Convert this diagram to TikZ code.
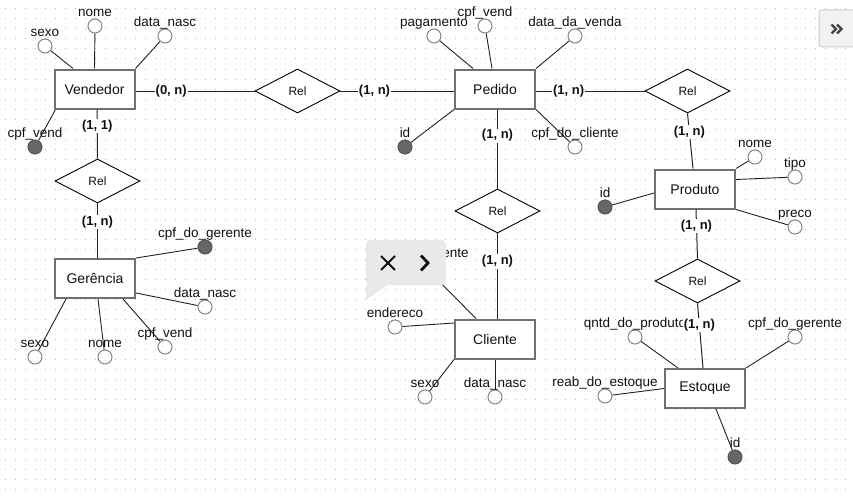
\documentclass[tikz,border=0pt]{standalone}
\usepackage{fontspec}
\setmainfont{Liberation Sans}
\usetikzlibrary{shapes.geometric}
\pgfdeclarelayer{grid}
\pgfdeclarelayer{bg}
\pgfdeclarelayer{top}
\pgfsetlayers{grid,bg,main,top}
\definecolor{entb}{HTML}{707070}
\definecolor{attrb}{HTML}{858585}
\definecolor{keyf}{HTML}{666666}
\definecolor{keyb}{HTML}{555555}
\definecolor{linec}{HTML}{222222}
\definecolor{txt}{HTML}{111111}
\definecolor{popf}{HTML}{E9E9E9}
\definecolor{btnf}{HTML}{F2F2F2}
\definecolor{btnb}{HTML}{CCCCCC}
\tikzset{
  ent/.style={rectangle, draw=entb, line width=2pt, fill=white, minimum width=80pt, minimum height=39pt, inner sep=0pt, text=txt, font=\fontsize{14pt}{16pt}\selectfont},
  relbox/.style={diamond, draw=black, line width=0.9pt, fill=white, minimum width=85pt, minimum height=44pt, inner sep=0pt, text=txt, font=\fontsize{12pt}{14pt}\selectfont},
  attr/.style={circle, draw=attrb, line width=1pt, fill=white, minimum size=14pt, inner sep=0pt},
  key/.style={circle, draw=keyb, line width=1pt, fill=keyf, minimum size=14pt, inner sep=0pt},
  alab/.style={anchor=base, inner sep=0pt, text=txt, font=\fontsize{13.5pt}{15pt}\selectfont},
  conn/.style={draw=linec, line width=0.9pt},
  rline/.style={draw=linec, line width=1pt},
  card/.style={fill=white, inner sep=1pt, text=txt, font=\bfseries\fontsize{13pt}{15pt}\selectfont}
}
\newcommand\myattr[5][attr]{%
  \node[#1] (#2) at (#3,#4) {};
  \node[alab] (#2l) at ([yshift=9.5pt]#2.center) {#5};}
\begin{document}
\begin{tikzpicture}[x=1pt,y=-1pt]
\useasboundingbox (0,0) rectangle (853,495);
\begin{pgfonlayer}{grid}
\fill[white] (0,0) rectangle (853,495);
\foreach \yy in {9,19,...,489}
  \draw[gray!55, line width=1pt, dash pattern=on 1pt off 9pt] (5,\yy) -- (853,\yy);
\end{pgfonlayer}

% entities
\node[ent] (vend) at (94.5,89) {Vendedor};
\node[ent] (ped) at (495,89) {Pedido};
\node[ent] (prod) at (695,189) {Produto};
\node[ent] (ger) at (95,278.5) {Gerência};
\node[ent] (cli) at (495,339) {Cliente};
\node[ent] (est) at (705,388.5) {Estoque};

% relationships
\node[relbox] (rel1) at (297.5,91) {Rel};
\node[relbox] (rel2) at (687.5,91) {Rel};
\node[relbox] (rel3) at (97.5,181) {Rel};
\node[relbox] (rel4) at (497.5,211) {Rel};
\node[relbox] (rel5) at (697.5,281) {Rel};

% attributes: Vendedor
\myattr{vsexo}{45}{46}{sexo}
\myattr{vnome}{95}{26}{nome}
\myattr{vdn}{165}{36}{data\_nasc}
\myattr[key]{vcpf}{35}{147}{cpf\_vend}
% Pedido
\myattr{ppag}{434}{36}{pagamento}
\myattr{pcpf}{485}{26}{cpf\_vend}
\myattr{pdv}{575}{36}{data\_da\_venda}
\myattr[key]{pid}{405}{147}{id}
\myattr{pcc}{575}{147}{cpf\_do\_cliente}
% Produto
\myattr{prnome}{755}{157}{nome}
\myattr{prtipo}{795}{177}{tipo}
\myattr{prpreco}{795}{227}{preco}
\myattr[key]{prid}{605}{207}{id}
% Gerencia
\myattr[key]{gcpf}{205}{247}{cpf\_do\_gerente}
\myattr{gdn}{205}{307}{data\_nasc}
\myattr{gcpfv}{165}{347}{cpf\_vend}
\myattr{gnome}{105}{357}{nome}
\myattr{gsexo}{35}{357}{sexo}
% Cliente
\myattr{ccpf}{425}{267}{cpf\_do\_cliente}
\myattr{cend}{395}{327}{endereco}
\myattr{csexo}{425}{397}{sexo}
\myattr{cdn}{495}{397}{data\_nasc}
% Estoque
\myattr{eq}{635}{337}{qntd\_do\_produto}
\myattr{ecpf}{795}{337}{cpf\_do\_gerente}
\myattr{ereab}{605}{396}{reab\_do\_estoque}
\myattr[key]{eid}{735}{457}{id}

\begin{pgfonlayer}{bg}
\draw[conn] ([xshift=-21.5pt]vend.north) -- (vsexo);
\draw[conn] (vend.north) -- (vnome);
\draw[conn] (vend.north east) -- (vdn);
\draw[conn] ([xshift=2pt]vend.south west) -- (vcpf);
\draw[conn] ([xshift=-22pt]ped.north) -- (ppag);
\draw[conn] ([xshift=-3pt]ped.north) -- (pcpf);
\draw[conn] (ped.north east) -- (pdv);
\draw[conn] (ped.south west) -- (pid);
\draw[conn] (ped.south east) -- (pcc);
\draw[conn] (prod.north east) -- (prnome);
\draw[conn] ([yshift=-11pt]prod.north east) -- (prtipo);
\draw[conn] (prod.south east) -- (prpreco);
\draw[conn] ([yshift=-4pt]prod.west) -- (prid);
\draw[conn] (ger.north east) -- (gcpf);
\draw[conn] ([yshift=-14.5pt]ger.east) -- (gdn);
\draw[conn] ([xshift=28pt]ger.south) -- (gcpfv);
\draw[conn] ([xshift=3pt]ger.south) -- (gnome);
\draw[conn] ([xshift=-29pt]ger.south) -- (gsexo);
\draw[conn] ([xshift=-19pt]cli.north) -- (ccpf);
\draw[conn] ([yshift=16pt]cli.west) -- (cend);
\draw[conn] (cli.south west) -- (csexo);
\draw[conn] (cli.south) -- (cdn);
\draw[conn] ([xshift=-27pt]est.north) -- (eq);
\draw[conn] (est.north east) -- (ecpf);
\draw[conn] (est.west) -- (ereab);
\draw[conn] ([xshift=11pt]est.south) -- (eid);
\end{pgfonlayer}

% relationship connectors with cardinalities
\draw[rline] (vend.east |- rel1.west) -- node[card, pos=0.3] {(0, n)} (rel1.west);
\draw[rline] (rel1.east) -- node[card, pos=0.3] {(1, n)} (rel1.east -| ped.west);
\draw[rline] (ped.east |- rel2.west) -- node[card, pos=0.3] {(1, n)} (rel2.west);
\draw[rline] (rel2.south) -- node[card, pos=0.34] {(1, n)} ([xshift=-2pt]prod.north);
\draw[rline] ([xshift=2.5pt]vend.south) -- node[card, pos=0.34] {(1, 1)} (rel3.north);
\draw[rline] (rel3.south) -- node[card, pos=0.34] {(1, n)} (rel3.south |- ger.north);
\draw[rline] (ped.south -| rel4.north) -- node[card, pos=0.33] {(1, n)} (rel4.north);
\draw[rline] (rel4.south) -- node[card, pos=0.33] {(1, n)} (rel4.south |- cli.north);
\draw[rline] ([xshift=1pt]prod.south) -- node[card, pos=0.34] {(1, n)} (rel5.north);
\draw[rline] (rel5.south) -- node[card, pos=0.34] {(1, n)} ([xshift=-2pt]est.north);

\begin{pgfonlayer}{top}
% popup
\fill[popf, rounded corners=4pt] (366,240) rectangle (446,285);
\fill[popf] (366,280) -- (366,300) -- (387,285) -- (366,285) -- cycle;
\draw[txt, line width=2pt] (381,256) -- (395,270) (381,270) -- (395,256);
\draw[txt, line width=2.8pt, line join=miter] (421,255.5) -- (428,263) -- (421,270.5);
% top-right button
\filldraw[fill=btnf, draw=btnb, line width=1pt, rounded corners=3pt] (819,10) rectangle (862,47);
\draw[black!75, line width=2.2pt, line join=miter] (831.5,24.5) -- (836,29) -- (831.5,33.5) (837,24.5) -- (841.5,29) -- (837,33.5);
\end{pgfonlayer}
\end{tikzpicture}
\end{document}
